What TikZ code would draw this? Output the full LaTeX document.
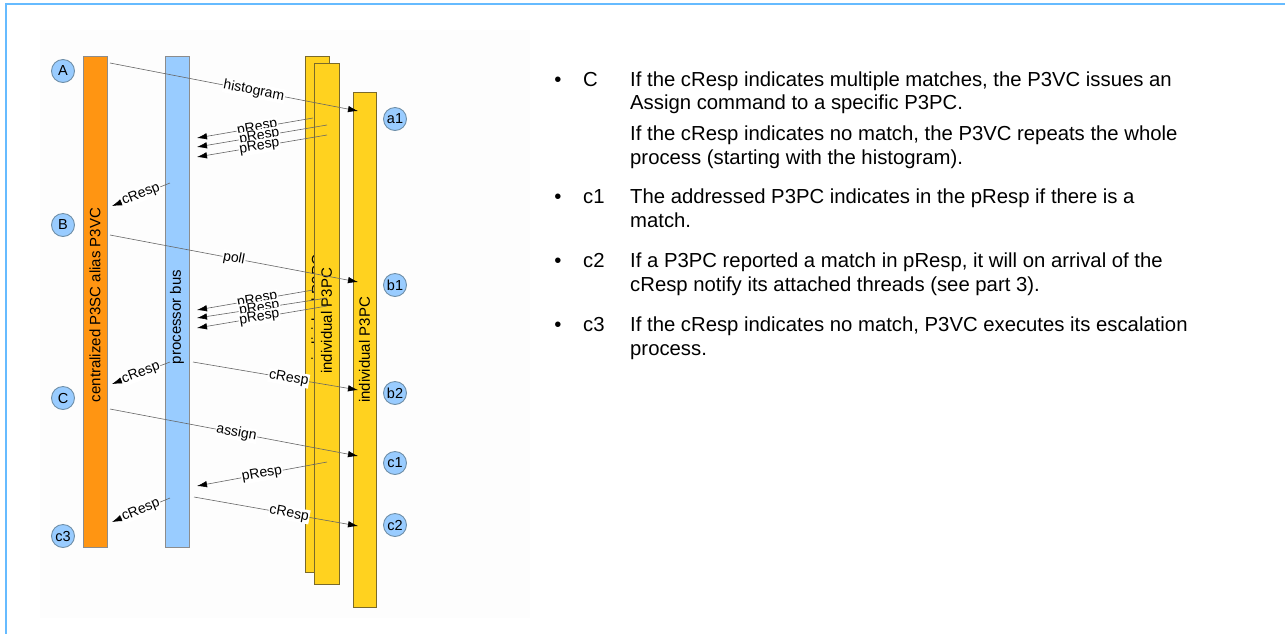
\documentclass[tikz,border=0pt]{standalone}
\usepackage{fontspec}
\setmainfont{Liberation Sans}
\usetikzlibrary{arrows.meta,positioning}
\definecolor{framecol}{HTML}{66BBFF}
\definecolor{orangebar}{HTML}{FF9512}
\definecolor{busblue}{HTML}{99CCFF}
\definecolor{pcyellow}{HTML}{FFD21F}
\definecolor{barline}{HTML}{8C8C8C}
\definecolor{pcline}{HTML}{7A6A2A}
\definecolor{tagline}{HTML}{6F8FA8}

\begin{document}
\begin{tikzpicture}[x=1pt,y=-1pt,
  bar/.style={rectangle, draw=barline, line width=0.8pt,
    minimum width=24pt, inner sep=0pt},
  pcbar/.style={bar, draw=pcline, fill=pcyellow},
  bartext/.style={rotate=90, inner sep=0pt,
    font=\fontsize{15}{15}\selectfont},
  tagdot/.style={circle, draw=tagline, fill=busblue, line width=0.9pt,
    minimum size=23pt, inner sep=0pt, font=\fontsize{14.5}{14.5}\selectfont},
  msg/.style={draw=black!60, line width=0.6pt,
    -{Latex[color=black, length=10pt, width=6.5pt]}},
  msglabel/.style={sloped, fill=white, inner sep=0.8pt,
    font=\fontsize{14}{14}\selectfont},
  bullettext/.style={anchor=base west, align=left, inner sep=0pt,
    font=\fontsize{20.3}{23.5}\selectfont},
  dotbullet/.style={anchor=base, inner sep=0pt,
    font=\fontsize{20.3}{23.5}\selectfont}
]
\useasboundingbox (0,0) rectangle (1285,633);
\fill[black!0.8] (40,30) rectangle (530,618);
\draw[framecol, line width=2.5pt] (1295,4) -- (6,4) -- (6,645);

% lifelines
\node[bar, fill=orangebar, minimum height=491pt] (p3vc) at (95,301.5) {};
\node[bartext] (p3vcname) at (95,305) {centralized P3SC alias P3VC};
\node[bar, fill=busblue, minimum height=491pt] (bus) at (177,301.5) {};
\node[bartext] (busname) at (177,317) {processor bus};
\node[pcbar, minimum height=516pt] (pcone) at (317,314) {};
\node[bartext] (pconename) at (317,308) {individual P3PC};
\node[pcbar, minimum width=25pt, minimum height=521pt] (pctwo) at (326.5,323.5) {};
\node[bartext] (pctwoname) at (326.5,321) {individual P3PC};
\node[pcbar, minimum width=23pt, minimum height=515pt] (pcthree) at (364.5,349.5) {};
\node[bartext] (pcthreename) at (364.5,350) {individual P3PC};

% step marks
\foreach \n/\x/\y in {A/63/71, B/63/225, C/63/398, c3/63/536,
    a1/395/119, b1/395/285, b2/395/393, c1/395/463, c2/395/525}
  \node[tagdot] (\n) at (\x,\y) {\n};

% message end points
\foreach \n/\x/\y in {hs/110/63, he/358/111,
    qa/313/118, qb/327/125, qc/327/135, ra/197/138, rb/197/147, rc/197/157,
    ks/170/183, ke/112/206, ls/110/235, le/358/282,
    sa/313/290, sb/327/298, sc/327/306, ta/197/310, tb/197/318, tc/197/328,
    us/170/362, ue/112/384, vs/193/362, ve/358/390,
    ws/110/409, we/358/456, xs/327/462, xe/197/486,
    ys/170/498, ye/112/522, zs/194/497, ze/358/526}
  \coordinate (\n) at (\x,\y);

\foreach \s/\e/\p/\t in {hs/he/.58/histogram,
    qa/ra/.48/pResp, qb/rb/.52/pResp, qc/rc/.52/pResp,
    ks/ke/.5/cResp, ls/le/.5/poll,
    sa/ta/.48/pResp, sb/tb/.52/pResp, sc/tc/.52/pResp,
    us/ue/.5/cResp, vs/ve/.58/cResp, ws/we/.51/assign,
    xs/xe/.5/pResp, ys/ye/.5/cResp, zs/ze/.58/cResp}
  {\draw[msg] (\s) -- node[msglabel, pos=\p] {\t} (\e);}

% notes (a two-line node sits on its last baseline)
\node[dotbullet] (bC) at (558,86) {•};
\node[bullettext] (tC) at (583,86) {C};
\node[bullettext] (nCa) at (630,109.5) {If the cResp indicates multiple matches, the P3VC issues an\\
  Assign command to a specific P3PC.};
\node[bullettext] (nCb) at (630,164) {If the cResp indicates no match, the P3VC repeats the whole\\
  process (starting with the histogram).};
\node[dotbullet] (bcone) at (558,203) {•};
\node[bullettext] (tcone) at (583,203) {c1};
\node[bullettext] (ncone) at (630,227) {The addressed P3PC indicates in the pResp if there is a\\
  match.};
\node[dotbullet] (bctwo) at (558,267) {•};
\node[bullettext] (tctwo) at (583,267) {c2};
\node[bullettext] (nctwo) at (630,291) {If a P3PC reported a match in pResp, it will on arrival of the\\
  cResp notify its attached threads (see part 3).};
\node[dotbullet] (bcthree) at (558,331.5) {•};
\node[bullettext] (tcthree) at (583,331.5) {c3};
\node[bullettext] (ncthree) at (630,355) {If the cResp indicates no match, P3VC executes its escalation\\
  process.};
\end{tikzpicture}
\end{document}
